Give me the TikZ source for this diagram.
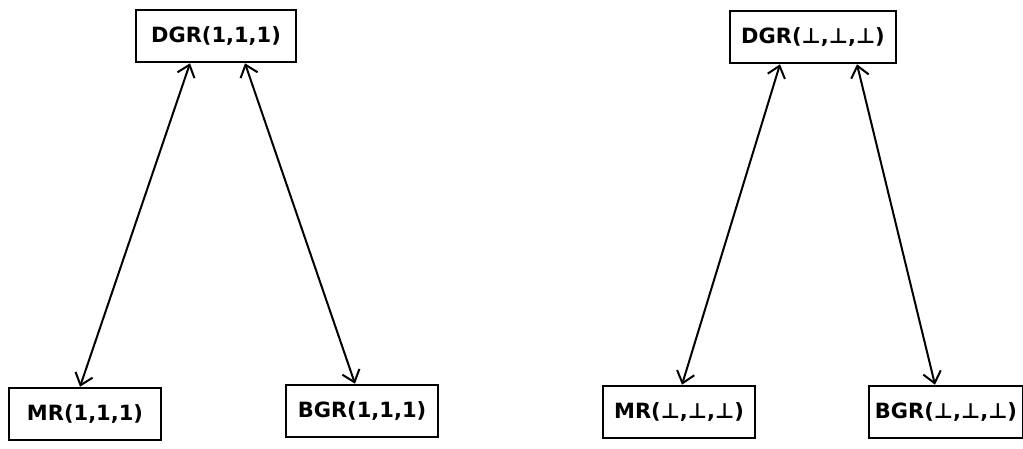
\documentclass[tikz,border=0pt]{standalone}
\usepackage{fontspec}
\setmainfont{DejaVu Sans}
\usetikzlibrary{arrows.meta}
\begin{document}
\begin{tikzpicture}[x=1pt,y=-1pt,
  box/.style={draw,line width=2.6pt,minimum height=52pt,inner sep=0pt,font=\fontsize{21}{24}\selectfont\bfseries},
  link/.style={line width=2pt,{Straight Barb[length=11pt,width=18pt,line width=2pt]}-{Straight Barb[length=11pt,width=18pt,line width=2pt]}}]
\useasboundingbox (0,0) rectangle (1023,448);
\node[box,minimum width=160pt] (dgrL) at (216,36) {DGR(1,1,1)};
\node[box,minimum width=152pt] (mrL) at (85,414) {MR(1,1,1)};
\node[box,minimum width=152pt] (bgrL) at (362,411) {BGR(1,1,1)};
\node[box,minimum width=166pt] (dgrR) at (813,37) {DGR(⊥,⊥,⊥)};
\node[box,minimum width=152pt] (mrR) at (679,412) {MR(⊥,⊥,⊥)};
\node[box,minimum width=154pt] (bgrR) at (946,412) {BGR(⊥,⊥,⊥)};
\draw[link] ([xshift=-26pt]dgrL.south) -- ([xshift=-5pt]mrL.north);
\draw[link] ([xshift=29pt]dgrL.south) -- ([xshift=-7pt]bgrL.north);
\draw[link] ([xshift=-33pt]dgrR.south) -- ([xshift=3pt]mrR.north);
\draw[link] ([xshift=44pt]dgrR.south) -- ([xshift=-11pt]bgrR.north);
\end{tikzpicture}
\end{document}
